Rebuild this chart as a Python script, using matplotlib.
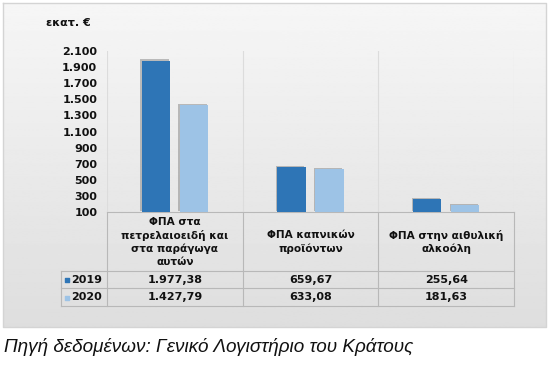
import numpy as np
import matplotlib
matplotlib.use("Agg")
import matplotlib.pyplot as plt
import matplotlib.patheffects as pe

categories = ["ΦΠΑ στα\nπετρελαιοειδή και\nστα παράγωγα\nαυτών",
              "ΦΠΑ καπνικών\nπροϊόντων",
              "ΦΠΑ στην αιθυλική\nαλκοόλη"]
years = ["2019", "2020"]
v2019 = [1977.38, 659.67, 255.64]
v2020 = [1427.79, 633.08, 181.63]
labels2019 = ["1.977,38", "659,67", "255,64"]
labels2020 = ["1.427,79", "633,08", "181,63"]
yticks = [100, 300, 500, 700, 900, 1100, 1300, 1500, 1700, 1900, 2100]
ytick_labels = ["100", "300", "500", "700", "900", "1.100", "1.300",
                "1.500", "1.700", "1.900", "2.100"]

c2019 = "#2E75B6"
c2020 = "#9DC3E6"
W, H = 549, 379

fig = plt.figure(figsize=(W / 100, H / 100), dpi=100)

# background layer in pixel coordinates
bg = fig.add_axes([0, 0, 1, 1])
bg.set_xlim(0, W)
bg.set_ylim(H, 0)
bg.axis("off")
grad = np.linspace(0.965, 0.87, 256).reshape(-1, 1)
bg.imshow(grad, cmap="gray", vmin=0, vmax=1, aspect="auto",
          extent=[3, 546, 327, 3], zorder=0)
bg.plot([3, 546, 546, 3, 3], [3, 3, 327, 327, 3], color="#d4d4d4", lw=1)

# table grid
tl, cx, tr = 61, 107, 514
col_edges = [107, 242.7, 378.3, 514]
line_c = "#b8b8b8"
for y in [271, 288, 306]:
    bg.plot([tl, tr], [y, y], color=line_c, lw=0.8)
bg.plot([cx, tr], [212, 212], color=line_c, lw=0.8)
for x in col_edges:
    bg.plot([x, x], [212, 306], color=line_c, lw=0.8)
bg.plot([tl, tl], [271, 306], color=line_c, lw=0.8)

bold = dict(fontsize=8, fontweight="bold", color="#111111",
            family="DejaVu Sans")
for i, cat in enumerate(categories):
    xc = (col_edges[i] + col_edges[i + 1]) / 2
    bg.text(xc, 242, cat, ha="center", va="center", linespacing=1.3,
            **dict(bold, fontsize=7.6))
    bg.text(xc, 280, labels2019[i], ha="center", va="center", **bold)
    bg.text(xc, 297.5, labels2020[i], ha="center", va="center", **bold)

bg.scatter([67], [280], marker="s", s=5, color=c2019)
bg.scatter([67], [297.5], marker="s", s=5, color=c2020)
bg.text(71, 280, years[0], ha="left", va="center", **bold)
bg.text(71, 297.5, years[1], ha="left", va="center", **bold)

bg.text(68, 23, "εκατ. €", ha="center", va="center", **bold)

bg.text(4, 347, "Πηγή δεδομένων: Γενικό Λογιστήριο του Κράτους",
        ha="left", va="center", fontsize=13.6, style="italic",
        family="Liberation Sans", color="#111111")

# chart axes
ax = fig.add_axes([107 / W, 1 - 212 / H, (514 - 107) / W, (212 - 51) / H])
ax.patch.set_alpha(0)
x = np.arange(len(categories))
bw = 0.21
shadow = [pe.SimplePatchShadow(offset=(-1, 1), shadow_rgbFace="#777777",
                               alpha=0.45), pe.Normal()]
ax.bar(x - 0.14, np.array(v2019) - 100, bw, bottom=100, color=c2019,
       path_effects=shadow, zorder=3)
ax.bar(x + 0.14, np.array(v2020) - 100, bw, bottom=100, color=c2020,
       path_effects=shadow, zorder=3)
ax.set_xlim(-0.5, 2.5)
ax.set_ylim(100, 2100)
for xv in [-0.5, 0.5, 1.5, 2.5]:
    ax.axvline(xv, color="#dcdcdc", lw=0.8, zorder=1)
for s in ax.spines.values():
    s.set_visible(False)
ax.set_xticks([])
ax.set_yticks(yticks)
ax.set_yticklabels(ytick_labels)
ax.tick_params(axis="y", length=0, pad=7)
for t in ax.get_yticklabels():
    t.set_fontsize(8)
    t.set_fontweight("bold")
    t.set_color("#111111")

fig.savefig("out.png", dpi=100)
